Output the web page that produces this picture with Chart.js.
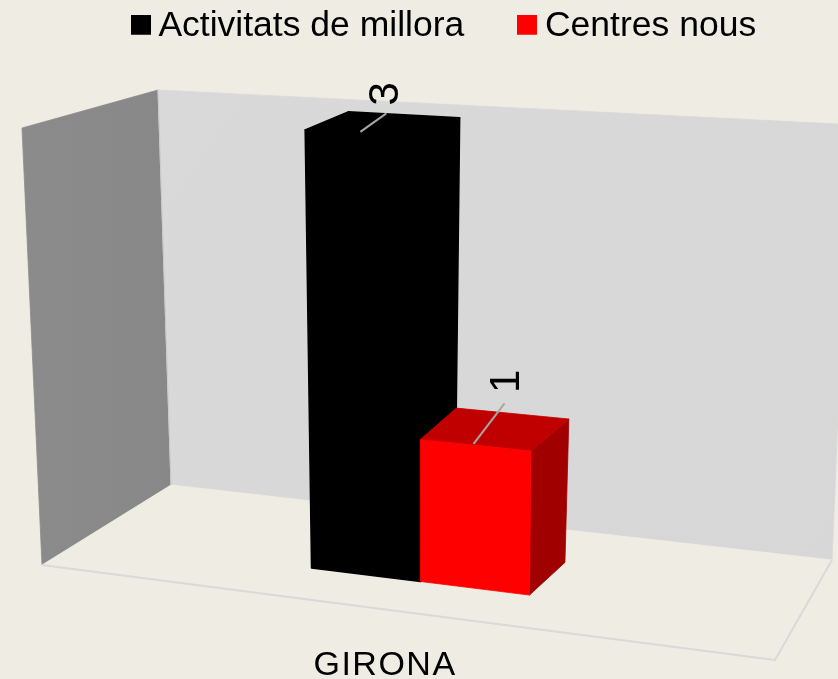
<!DOCTYPE html>
<html><head><meta charset="utf-8">
<script src="https://cdn.jsdelivr.net/npm/chart.js@4"></script>
<style>html,body{margin:0;padding:0;background:#EEECE3;overflow:hidden}
canvas{display:block}</style></head>
<body><canvas id="c" width="838" height="679"></canvas>
<script>
const categories = ['GIRONA'];
const seriesNames = ['Activitats de millora', 'Centres nous'];
const activitats = [3];
const centres = [1];
const yTicks = { min: 0, max: 3 };

const FONT = '"Liberation Sans"';
const BG = '#EEECE3';
const COLORS = {
  black: { front: '#000000', top: '#000000', side: '#000000' },
  red: { front: '#FF0000', top: '#C00000', side: '#A00000' }
};
// Projection box: corners of the 3D room on the page
const BOX = {
  fl0: [42, 565], fr0: [775, 660], bl0: [171, 485], br0: [832, 560],
  fl1: [22, 128], fr1: [784, 176], bl1: [158, 90], br1: [868, 125.5]
};
const WALL_TOP_RIGHT = [850, 124.6];
const DEPTH = [0.32, 0.68];
const U_CENTER = 0.475;
const LEADERS = [{ dx: 26, dy: -18.5, lx: 26, ly: -38 }, { dx: 31, dy: -40.5, lx: 34, ly: -62.5 }];

const lerp = (a, b, t) => [a[0] + (b[0] - a[0]) * t, a[1] + (b[1] - a[1]) * t];
function project(u0, v, w) {
  const u = u0 + (w - 0.32) * 0.14 * Math.max(0, u0 - U_CENTER);
  const p = 1.04 - (w - 0.32) * 0.064;
  const vv = Math.pow(Math.max(v, 0), p) * (1 + (w - 0.32) * 0.02);
  const f0 = lerp(BOX.fl0, BOX.fr0, u), b0 = lerp(BOX.bl0, BOX.br0, u);
  const f1 = lerp(BOX.fl1, BOX.fr1, u), b1 = lerp(BOX.bl1, BOX.br1, u);
  return lerp(lerp(f0, b0, w), lerp(f1, b1, w), vv);
}
function poly(ctx, pts, fill, lw) {
  ctx.beginPath();
  pts.forEach((p, i) => i ? ctx.lineTo(p[0], p[1]) : ctx.moveTo(p[0], p[1]));
  ctx.closePath();
  ctx.fillStyle = fill;
  ctx.fill();
  ctx.strokeStyle = fill;
  ctx.lineWidth = lw || 0.8;
  ctx.lineJoin = 'round';
  ctx.stroke();
}
function swatch(color) {
  const s = document.createElement('canvas');
  s.width = 20; s.height = 23;
  const g = s.getContext('2d');
  g.fillStyle = color; g.fillRect(0, 0, 20, 20);
  return s;
}

const room = {
  id: 'room3d',
  afterLayout(chart) {
    chart.legend.top -= 54.5;
    chart.legend.bottom -= 54.5;
    chart.legend.left += 2.4;
    chart.legend.right += 2.4;
  },
  beforeDatasetsDraw(chart) {
    const ctx = chart.ctx, a = chart.chartArea;
    const P = (x, y, w) => project(U_CENTER + (x - (a.left + a.right) / 2) / (a.right - a.left),
                                   (a.bottom - y) / (a.bottom - a.top), w);
    ctx.save();
    const lg = ctx.createLinearGradient(22, 0, 171, 0);
    lg.addColorStop(0, '#8b8b8b'); lg.addColorStop(1, '#888888');
    poly(ctx, [BOX.fl0, BOX.bl0, BOX.bl1, BOX.fl1], lg);
    const bg = ctx.createLinearGradient(158, 90, 838, 560);
    bg.addColorStop(0, '#d9d9d9'); bg.addColorStop(1, '#d7d7d7');
    poly(ctx, [BOX.bl0, BOX.br0, WALL_TOP_RIGHT, BOX.bl1], bg);
    poly(ctx, [BOX.fl0, BOX.fr0, BOX.br0, BOX.bl0], BG);
    ctx.beginPath();
    ctx.moveTo(...BOX.fl0); ctx.lineTo(...BOX.fr0); ctx.lineTo(...BOX.br0);
    ctx.strokeStyle = '#D9D9D9'; ctx.lineWidth = 2; ctx.stroke();
    ctx.beginPath();
    ctx.moveTo(...BOX.bl0); ctx.lineTo(...BOX.bl1);
    ctx.strokeStyle = '#c9c9c9'; ctx.lineWidth = 1; ctx.stroke();
    const palette = [COLORS.black, COLORS.red];
    chart.data.datasets.forEach((ds, i) => {
      chart.getDatasetMeta(i).data.forEach(el => {
        const l = el.x - el.width / 2, r = el.x + el.width / 2;
        const c = palette[i];
        const [w0, w1] = DEPTH;
        const lw = c.front === c.side ? 1.5 : 0.8;
        poly(ctx, [P(r, el.base, w0), P(r, el.base, w1), P(r, el.y, w1), P(r, el.y, w0)], c.side, lw);
        poly(ctx, [P(l, el.y, w0), P(r, el.y, w0), P(r, el.y, w1), P(l, el.y, w1)], c.top, lw);
        poly(ctx, [P(l, el.base, w0), P(r, el.base, w0), P(r, el.y, w0), P(l, el.y, w0)], c.front, lw);
      });
    });
    chart.data.datasets.forEach((ds, i) => {
      chart.getDatasetMeta(i).data.forEach((el, j) => {
        const p0 = P(el.x, el.y, DEPTH[0]);
        const s = [p0[0] - 2, p0[1] - 1.5];
        const k = LEADERS[i];
        ctx.beginPath();
        ctx.moveTo(s[0], s[1]);
        ctx.lineTo(s[0] + k.dx, s[1] + k.dy);
        ctx.strokeStyle = '#A6A6A6'; ctx.lineWidth = 2; ctx.stroke();
        ctx.save();
        ctx.translate(s[0] + k.lx, s[1] + k.ly);
        ctx.rotate(-Math.PI / 2);
        ctx.font = '42px ' + FONT;
        ctx.fillStyle = '#000';
        ctx.textAlign = 'center'; ctx.textBaseline = 'middle';
        ctx.fillText(String(ds.data[j]), 0, 0);
        ctx.restore();
      });
    });
    ctx.restore();
    ctx.letterSpacing = '1.5px';
    return false;
  },
  afterDraw(chart) { chart.ctx.letterSpacing = '0px'; }
};

new Chart(document.getElementById('c'), {
  type: 'bar',
  data: {
    labels: categories,
    datasets: [
      { label: seriesNames[0], data: activitats, backgroundColor: COLORS.black.front },
      { label: seriesNames[1], data: centres, backgroundColor: COLORS.red.front }
    ]
  },
  options: {
    responsive: false,
    animation: false,
    devicePixelRatio: 1,
    layout: { padding: { left: 54, right: 0, top: 0, bottom: -4 } },
    datasets: { bar: { categoryPercentage: 0.307, barPercentage: 1 } },
    plugins: {
      tooltip: { enabled: false },
      legend: {
        position: 'top',
        labels: {
          color: '#000',
          font: { family: FONT, size: 35.5 },
          usePointStyle: true,
          pointStyleWidth: 0.01,
          boxHeight: 20,
          padding: 63,
          generateLabels(chart) {
            const items = Chart.defaults.plugins.legend.labels.generateLabels(chart);
            items.forEach(it => { it.pointStyle = swatch(it.fillStyle); });
            return items;
          }
        }
      }
    },
    scales: {
      x: {
        grid: { display: false },
        border: { display: false },
        ticks: { color: '#000', font: { family: FONT, size: 34, lineHeight: 1 }, padding: 0, labelOffset: -61, z: 1 }
      },
      y: { display: false, min: yTicks.min, max: yTicks.max, grid: { display: false } }
    }
  },
  plugins: [room]
});
</script>
</body></html>
